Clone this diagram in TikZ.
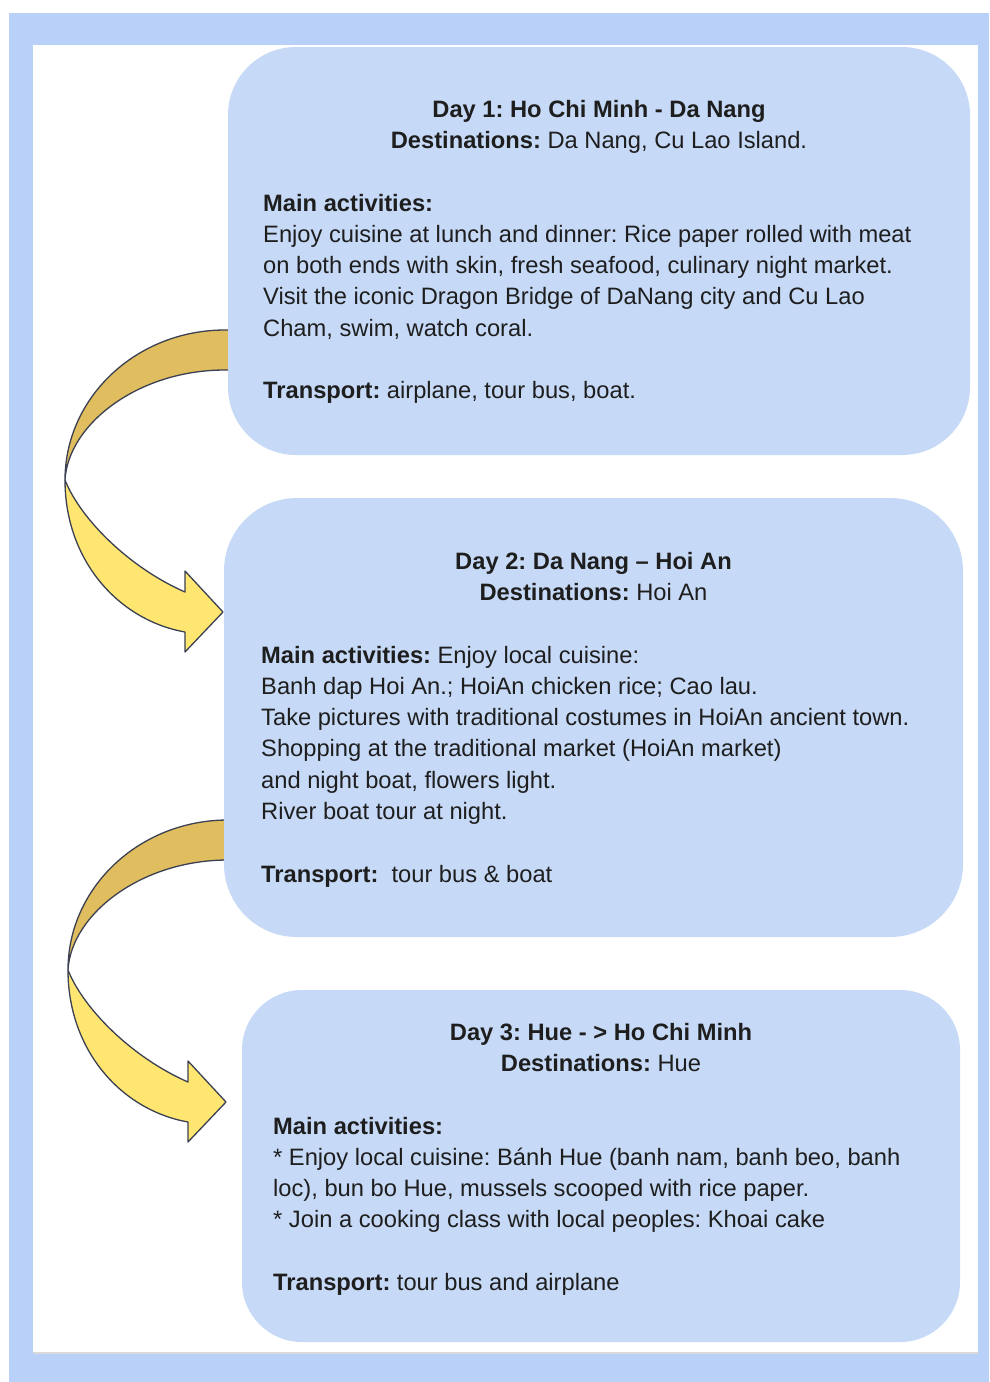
\documentclass[tikz,border=0pt]{standalone}
\usepackage{fontspec}
\setmainfont[Ligatures={TeX,NoCommon}]{Liberation Sans}
\definecolor{frameblue}{HTML}{B9D1F8}
\definecolor{boxblue}{HTML}{C6D9F6}
\definecolor{arrowdark}{HTML}{E0BD5E}
\definecolor{arrowlight}{HTML}{FFE671}
\definecolor{arrowedge}{HTML}{3B4152}
\definecolor{txt}{HTML}{1E1E1E}
\frenchspacing
\begin{document}
\begin{tikzpicture}[x=1pt,y=-1pt,
  daybox/.style={draw=none, fill=boxblue, inner sep=0pt, outer sep=0pt},
  bodytext/.style={anchor=base west, inner sep=0pt, text=txt, font=\fontsize{23.7pt}{31.3pt}\selectfont},
  titletext/.style={anchor=base, inner sep=0pt, text=txt, font=\fontsize{23.7pt}{31.3pt}\selectfont},
  arrowline/.style={draw=arrowedge, line width=1.3pt, line join=round},
  curvarrow/.pic={
    \path[arrowline, fill=arrowdark] (232,330) -- (225,330) .. controls (136.6,330) and (65,397.2) .. (65,480)
      .. controls (68,425) and (137.2,370) .. (225,370) -- (232,370) -- cycle;
    \path[arrowline, fill=arrowlight] (65,480) .. controls (65,560) and (118,620) .. (185,632)
      -- (185,652) -- (223,612) -- (185,571) -- (185,592)
      .. controls (128,567) and (80,518) .. (65,480) -- cycle;
  }]
\useasboundingbox (0,0) rectangle (989,1382);
% page frame
\fill[frameblue] (9,13) rectangle (989,1382);
\fill[white] (33,45) rectangle (978,1353);
\draw[black!15, line width=2pt] (33,1353) -- (978,1353);
% arrows
\pic at (0,0) {curvarrow};
\pic at (3,490) {curvarrow};
% boxes
\node[daybox, rounded corners=68pt, minimum width=742pt, minimum height=408pt] (day1) at (599,251) {};
\node[daybox, rounded corners=73pt, minimum width=739pt, minimum height=439pt] (day2) at (593.5,717.5) {};
\node[daybox, rounded corners=60pt, minimum width=718pt, minimum height=352pt] (day3) at (601,1166) {};
% day 1
\node[titletext] (t1) at (599,117) {\begin{minipage}[t]{720pt}\centering
\textbf{Day 1: Ho Chi Minh - Da Nang}\\
\textbf{Destinations:} Da Nang, Cu Lao Island.\end{minipage}};
\node[bodytext] (b1) at (263,211) {\begin{minipage}[t]{700pt}
\textbf{Main activities:}\\
Enjoy cuisine at lunch and dinner: Rice paper rolled with meat\\
on both ends with skin, fresh seafood, culinary night market.\\
Visit the iconic Dragon Bridge of DaNang city and Cu Lao\\
Cham, swim, watch coral.\\[31.3pt]
\textbf{Transport:} airplane, tour bus, boat.\end{minipage}};
% day 2
\node[titletext] (t2) at (593.5,569) {\begin{minipage}[t]{720pt}\centering
\textbf{Day 2: Da Nang – Hoi An}\\
\textbf{Destinations:} Hoi An\end{minipage}};
\node[bodytext] (b2) at (261,663) {\begin{minipage}[t]{700pt}
\textbf{Main activities:} Enjoy local cuisine:\\
Banh dap Hoi An.; HoiAn chicken rice; Cao lau.\\
Take pictures with traditional costumes in HoiAn ancient town.\\
Shopping at the traditional market (HoiAn market)\\
and night boat, flowers light.\\
River boat tour at night.\\[31.3pt]
\textbf{Transport:}\ \ tour bus \& boat\end{minipage}};
% day 3
\node[titletext] (t3) at (601,1040) {\begin{minipage}[t]{700pt}\centering
\textbf{Day 3: Hue - > Ho Chi Minh}\\
\textbf{Destinations:} Hue\end{minipage}};
\node[bodytext] (b3) at (273,1134) {\begin{minipage}[t]{680pt}
\textbf{Main activities:}\\\relax
* Enjoy local cuisine: Bánh Hue (banh nam, banh beo, banh\\
loc), bun bo Hue, mussels scooped with rice paper.\\\relax
* Join a cooking class with local peoples: Khoai cake\\[31.3pt]
\textbf{Transport:} tour bus and airplane\end{minipage}};
\end{tikzpicture}
\end{document}
